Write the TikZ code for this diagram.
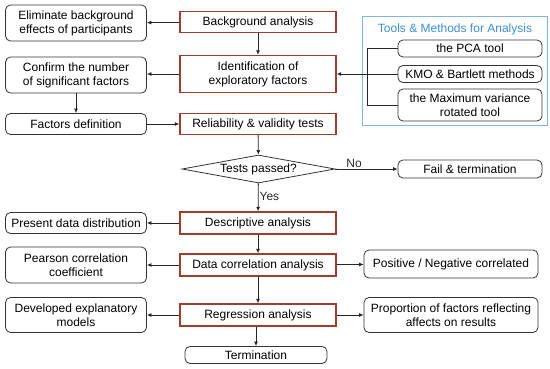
\documentclass[tikz,border=0pt]{standalone}
\usepackage{fontspec}
\setmainfont{Liberation Sans}
\usepackage{xcolor}
\usetikzlibrary{arrows.meta,positioning,shapes.geometric}
\definecolor{stagered}{RGB}{160,62,45}
\definecolor{toolblue}{RGB}{60,140,215}
\definecolor{frameblue}{RGB}{130,180,230}
\tikzset{
  box/.style={draw=black!80, line width=0.8pt, rounded corners=5pt, align=center,
              font=\fontsize{12}{14}\selectfont, minimum width=141pt, inner sep=1pt},
  stage/.style={draw=stagered, line width=1.4pt, align=center, font=\fontsize{12}{14}\selectfont,
                minimum width=156pt, inner sep=1pt},
  tool/.style={draw=black!80, line width=0.8pt, rounded corners=5pt, align=center,
               font=\fontsize{12}{14}\selectfont, minimum width=144pt, inner sep=1pt},
  test/.style={draw=black!80, line width=0.8pt, diamond, aspect=5, minimum width=153pt,
               minimum height=28pt, inner sep=0pt, font=\fontsize{12}{14}\selectfont},
  link/.style={-{Latex[length=4.5pt,width=4pt]}, black!85, line width=0.8pt},
  tag/.style={font=\fontsize{12}{14}\selectfont, inner sep=1pt}
}
\begin{document}
\begin{tikzpicture}[x=1pt,y=-1pt]
  \useasboundingbox (0,0) rectangle (550,368);
  % main stages
  \node[stage, minimum height=21pt] (bg) at (258,22) {Background analysis};
  \node[stage, minimum height=37pt] (ident) at (258,74) {Identification of\\exploratory factors};
  \node[stage, minimum height=21pt] (rel) at (258,124) {Reliability \& validity tests};
  \node[test] (pass) at (258.5,169) {Tests passed?};
  \node[stage, minimum height=22pt] (desc) at (258,223) {Descriptive analysis};
  \node[stage, minimum height=22pt] (corr) at (258,265) {Data correlation analysis};
  \node[stage, minimum height=22pt] (regr) at (258,315) {Regression analysis};
  \node[box, minimum width=142pt, minimum height=17pt] (term) at (256,355) {Termination};
  % left side
  \node[box, minimum height=36pt] (elim) at (76,23) {Eliminate background\\effects of participants};
  \node[box, minimum height=36pt] (conf) at (76,75) {Confirm the number\\of significant factors};
  \node[box, minimum height=21pt] (fdef) at (76,124) {Factors definition};
  \node[box, minimum height=21pt] (pres) at (76,223) {Present data distribution};
  \node[box, minimum height=36pt] (pear) at (76,265) {Pearson correlation\\coefficient};
  \node[box, minimum height=35pt] (devel) at (76,315) {Developed explanatory\\models};
  % right side
  \node[tool, minimum height=18pt] (fail) at (470,169) {Fail \& termination};
  \node[box, minimum width=174pt, minimum height=28pt] (posneg) at (451,264) {Positive / Negative correlated};
  \node[box, minimum width=174pt, minimum height=35pt] (prop) at (451,315) {Proportion of factors reflecting\\affects on results};
  % tools frame
  \node[draw=frameblue, line width=0.8pt, minimum width=185pt, minimum height=109pt] (tools) at (455,70.5) {};
  \node[font=\fontsize{12}{14}\selectfont, text=toolblue] (toolstitle) at (455,29) {Tools \& Methods for Analysis};
  \node[tool, minimum height=17pt] (pca) at (470,48.5) {the PCA tool};
  \node[tool, minimum height=17pt] (kmo) at (470,74) {KMO \& Bartlett methods};
  \node[tool, minimum height=32pt] (maxv) at (470,105) {the Maximum variance\\rotated tool};

  \draw[black!85, line width=0.8pt] (pca.west) -- ++(-30,0) |- (maxv.west);
  \draw[link] (kmo.west) -- (kmo.west -| ident.east);

  \draw[link] (bg) -- (elim);
  \draw[link] (bg) -- (ident);
  \draw[link] (ident.west) -- (ident.west -| conf.east);
  \draw[link] (conf) -- (fdef);
  \draw[link] (fdef) -- (rel);
  \draw[link] (rel) -- (pass);
  \draw[link] (pass) -- node[tag, above, pos=0.3] {No} (fail);
  \draw[link] (pass) -- node[tag, right, pos=0.45] {Yes} (desc);
  \draw[link] (desc) -- (pres);
  \draw[link] (desc) -- (corr);
  \draw[link] (corr) -- (pear);
  \draw[link] (corr) -- (posneg);
  \draw[link] (corr) -- (regr);
  \draw[link] (regr) -- (devel);
  \draw[link] (regr) -- (prop);
  \draw[link] (regr.south -| term.north) -- (term);
\end{tikzpicture}
\end{document}
